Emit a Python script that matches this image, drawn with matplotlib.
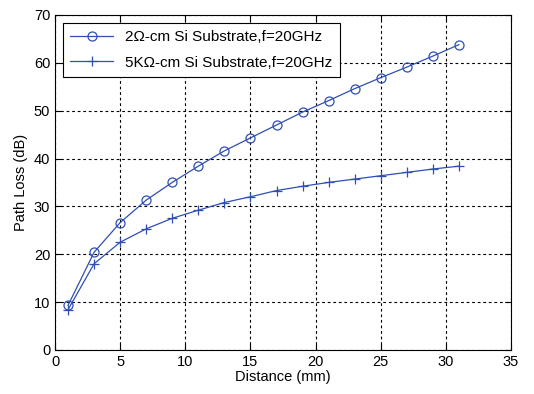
import matplotlib
matplotlib.use("Agg")
import matplotlib.pyplot as plt

plt.rcParams["font.family"] = ["Liberation Sans", "DejaVu Sans"]

distance = [1, 3, 5, 7, 9, 11, 13, 15, 17, 19, 21, 23, 25, 27, 29, 31]
loss_2ohm = [9.3, 20.4, 26.6, 31.3, 35.0, 38.4, 41.6, 44.3, 47.0, 49.7,
             52.1, 54.6, 56.9, 59.1, 61.4, 63.8]
loss_5kohm = [8.4, 18.0, 22.5, 25.3, 27.5, 29.2, 30.8, 32.0, 33.3, 34.2,
              35.0, 35.7, 36.4, 37.1, 37.8, 38.4]
labels = ["2\u03a9-cm Si Substrate,f=20GHz", "5K\u03a9-cm Si Substrate,f=20GHz"]

blue = "#2f4fb4"

fig = plt.figure(figsize=(5.34, 3.94), dpi=100)
ax = fig.add_axes([0.103, 0.112, 0.854, 0.850])

ax.plot(distance, loss_2ohm, color=blue, lw=0.9, marker="o", ms=6.5,
        mfc="none", mec=blue, mew=0.9, label=labels[0])
ax.plot(distance, loss_5kohm, color=blue, lw=0.9, marker="+", ms=7,
        mew=0.9, label=labels[1])

ax.set_xlim(0, 35)
ax.set_ylim(0, 70)
ax.set_xticks(range(0, 36, 5))
ax.set_yticks(range(0, 71, 10))
ax.grid(True, color="black", linestyle=(0, (2.5, 2.5)), lw=0.8)
ax.tick_params(direction="in", labelsize=10.5, length=4, top=True, right=True)
for s in ax.spines.values():
    s.set_linewidth(0.8)

ax.set_xlabel("Distance (mm)", fontsize=10.5, labelpad=1)
ax.set_ylabel("Path Loss (dB)", fontsize=10.5, labelpad=4)

leg = ax.legend(loc="upper left", fontsize=11, frameon=True, fancybox=False,
                edgecolor="black", framealpha=1, handlelength=2.8,
                borderaxespad=0.5, labelspacing=0.75, borderpad=0.5)
leg.get_frame().set_linewidth(0.8)

fig.savefig("out.png", dpi=100)
